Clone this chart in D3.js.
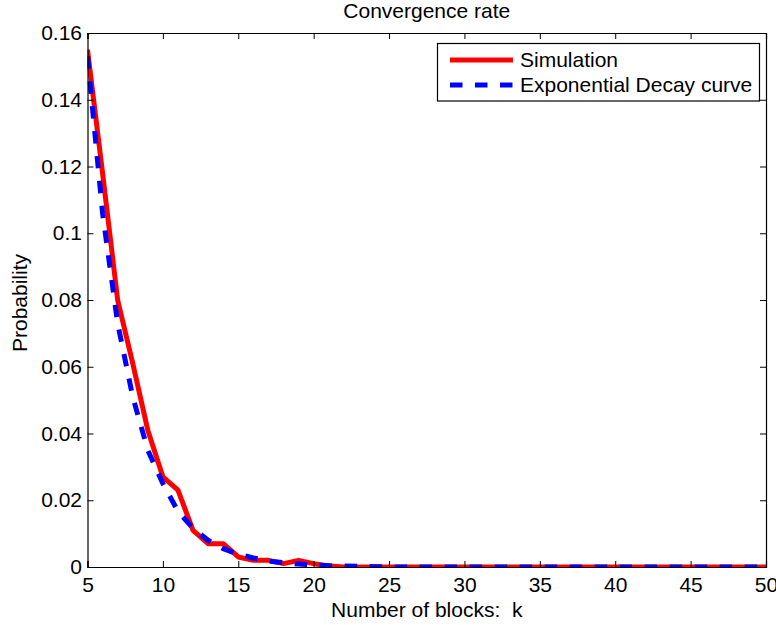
<!DOCTYPE html>
<html lang="en">
<head>
  <meta charset="UTF-8">
  <title>Convergence rate</title>
  <style>
    body { margin: 0; background: #fff; }
    text { font-family: "Liberation Sans", Arial, Helvetica, sans-serif; fill: #000; }
  </style>
</head>
<body>
  <section class="plot"></section>

  <script src="https://cdn.jsdelivr.net/npm/d3@7/dist/d3.min.js"></script>
  <script>
    // Data
    const blocks = d3.range(5, 51);   // k = 5 .. 50
    const simulation = [
      0.155, 0.118, 0.080, 0.061, 0.041, 0.027, 0.023, 0.011, 0.007, 0.007,
      0.003, 0.002, 0.002, 0.001, 0.002, 0.001, 0.0003, 0, 0, 0,
      0, 0, 0, 0, 0, 0, 0, 0, 0, 0,
      0, 0, 0, 0, 0, 0, 0, 0, 0, 0,
      0, 0, 0, 0, 0, 0
    ];
    const decay = [
      0.153, 0.106, 0.073, 0.051, 0.035, 0.025, 0.0167, 0.0116, 0.0080, 0.0055,
      0.0038, 0.0027, 0.0018, 0.0013, 0.0009, 0.0006, 0.0004, 0.0003, 0.0002, 0.0001,
      0, 0, 0, 0, 0, 0, 0, 0, 0, 0,
      0, 0, 0, 0, 0, 0, 0, 0, 0, 0,
      0, 0, 0, 0, 0, 0
    ];
    const xTicks = [5, 10, 15, 20, 25, 30, 35, 40, 45, 50];
    const yTicks = [0, 0.02, 0.04, 0.06, 0.08, 0.1, 0.12, 0.14, 0.16];
    const seriesNames = ["Simulation", "Exponential Decay curve"];

    const W = 776, H = 625;
    const box = { left: 87.5, right: 766, top: 33, bottom: 567 };
    const fs = 21;

    const svg = d3.select(".plot")
      .append("svg")
      .attr("width", W)
      .attr("height", H);

    const x = d3.scaleLinear().domain([5, 50]).range([box.left, box.right]);
    const y = d3.scaleLinear().domain([0, 0.16]).range([box.bottom, box.top]);

    svg.append("clipPath").attr("id", "clip")
      .append("rect")
      .attr("x", box.left).attr("y", box.top)
      .attr("width", box.right - box.left)
      .attr("height", box.bottom - box.top);

    // lines
    const line = vals => d3.line()
      .x((d, i) => x(blocks[i]))
      .y(d => y(d))(vals);

    const plot = svg.append("g").attr("clip-path", "url(#clip)");
    plot.append("path")
      .attr("d", line(simulation))
      .attr("fill", "none")
      .attr("stroke", "#ff0000")
      .attr("stroke-width", 5)
      .attr("stroke-linejoin", "round");
    plot.append("path")
      .attr("d", line(decay))
      .attr("fill", "none")
      .attr("stroke", "#0000ff")
      .attr("stroke-width", 5)
      .attr("stroke-dasharray", "12.5,12.5");

    // axes (ticks inside, box on)
    const tl = 6;
    svg.append("g")
      .attr("transform", `translate(0,${box.bottom})`)
      .call(d3.axisBottom(x).tickValues(xTicks).tickSize(-tl).tickPadding(10).tickFormat(d3.format("d")));
    svg.append("g")
      .attr("transform", `translate(0,${box.top})`)
      .call(d3.axisTop(x).tickValues(xTicks).tickSize(-tl).tickFormat(""));
    svg.append("g")
      .attr("transform", `translate(${box.left},0)`)
      .call(d3.axisLeft(y).tickValues(yTicks).tickSize(-tl).tickPadding(5.5).tickFormat(d => d === 0 ? "0" : String(+d.toFixed(2))));
    svg.append("g")
      .attr("transform", `translate(${box.right},0)`)
      .call(d3.axisRight(y).tickValues(yTicks).tickSize(-tl).tickFormat(""));

    svg.selectAll(".domain").attr("stroke", "#000").attr("stroke-width", 1.2);
    svg.selectAll(".tick line").attr("stroke", "#000");
    svg.selectAll(".tick text")
      .attr("font-size", fs)
      .attr("font-family", "Liberation Sans, Arial, sans-serif")
      .attr("fill", "#000");

    // title and labels
    svg.append("text")
      .attr("x", (box.left + box.right) / 2)
      .attr("y", 18)
      .attr("text-anchor", "middle")
      .attr("font-size", fs)
      .text("Convergence rate");
    svg.append("text")
      .attr("x", (box.left + box.right) / 2)
      .attr("y", 617)
      .attr("text-anchor", "middle")
      .attr("font-size", fs)
      .attr("xml:space", "preserve")
      .text("Number of blocks:  k");
    svg.append("text")
      .attr("transform", `translate(27,303) rotate(-90)`)
      .attr("text-anchor", "middle")
      .attr("font-size", fs)
      .text("Probability");

    // legend
    const lg = svg.append("g");
    lg.append("rect")
      .attr("x", 437.5).attr("y", 43.5)
      .attr("width", 322).attr("height", 57.5)
      .attr("fill", "#fff")
      .attr("stroke", "#000")
      .attr("stroke-width", 1.2);
    const legendStyles = [
      { color: "#ff0000", dash: null },
      { color: "#0000ff", dash: "12.5,12.5" }
    ];
    seriesNames.forEach((name, i) => {
      const cy = 60 + i * 25;
      lg.append("line")
        .attr("x1", 450).attr("x2", 513)
        .attr("y1", cy).attr("y2", cy)
        .attr("stroke", legendStyles[i].color)
        .attr("stroke-width", 5)
        .attr("stroke-dasharray", legendStyles[i].dash);
      lg.append("text")
        .attr("x", 520)
        .attr("y", cy)
        .attr("dy", "0.35em")
        .attr("font-size", fs)
        .text(name);
    });
  </script>
</body>
</html>
